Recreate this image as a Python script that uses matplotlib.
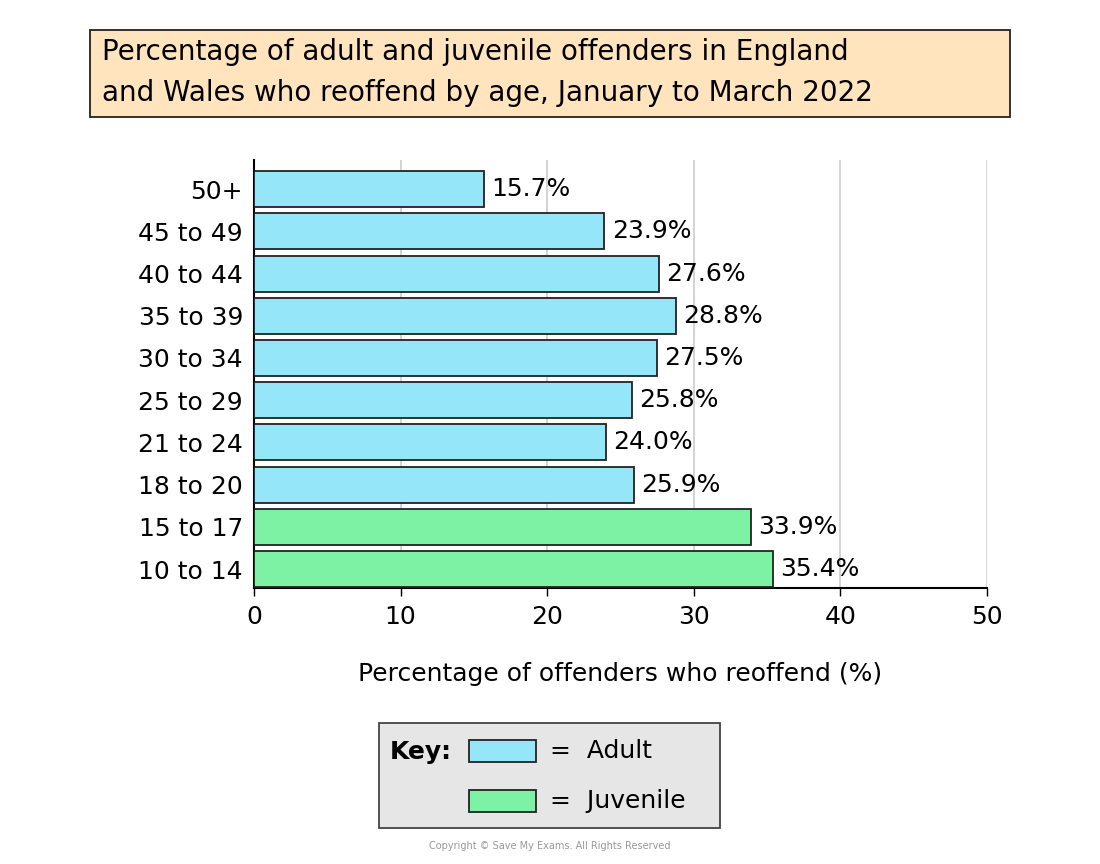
import matplotlib.pyplot as plt
from matplotlib.patches import Rectangle

# Data
ages = ['10 to 14', '15 to 17', '18 to 20', '21 to 24', '25 to 29',
        '30 to 34', '35 to 39', '40 to 44', '45 to 49', '50+']
reoffend = [35.4, 33.9, 25.9, 24.0, 25.8, 27.5, 28.8, 27.6, 23.9, 15.7]
groups = ['Juvenile', 'Juvenile', 'Adult', 'Adult', 'Adult',
          'Adult', 'Adult', 'Adult', 'Adult', 'Adult']
x_ticks = [0, 10, 20, 30, 40, 50]

colours = {'Adult': '#96E6FA', 'Juvenile': '#7DF2A5'}

plt.rcParams['font.family'] = ['DejaVu Sans']

fig = plt.figure(figsize=(11, 8.64), dpi=100)
ax = fig.add_axes([0.2309, 0.3194, 0.6664, 0.4954])

ypos = list(range(len(ages)))
ax.barh(ypos, reoffend, height=0.85,
        color=[colours[g] for g in groups],
        edgecolor='#222222', linewidth=1.3, zorder=3)

for y, v in zip(ypos, reoffend):
    ax.text(v + 0.5, y, f'{v:.1f}%', va='center', ha='left', fontsize=18)

ax.set_xlim(0, 50)
ax.set_ylim(-0.45, 9.69)
ax.set_yticks(ypos)
ax.set_yticklabels(ages, fontsize=18)
ax.set_xticks(x_ticks)
ax.set_xticklabels([str(t) for t in x_ticks], fontsize=18)
ax.tick_params(axis='y', length=0, pad=8)
ax.tick_params(axis='x', length=6, width=1, pad=6)
ax.grid(axis='x', color='#cccccc', linewidth=1.2, zorder=0)
for s in ['top', 'right']:
    ax.spines[s].set_visible(False)
ax.spines['left'].set_linewidth(1.5)
ax.spines['bottom'].set_linewidth(1.5)
ax.set_xlabel('Percentage of offenders who reoffend (%)', fontsize=18, labelpad=24)

# Title box
fig.patches.append(Rectangle((90 / 1100, 1 - 117 / 864), 920 / 1100, 87 / 864,
                             transform=fig.transFigure, facecolor='#FFE4BE',
                             edgecolor='#222222', linewidth=1.3))
fig.text(102 / 1100, 1 - 52 / 864, 'Percentage of adult and juvenile offenders in England',
         fontsize=20, va='center', ha='left')
fig.text(102 / 1100, 1 - 93 / 864, 'and Wales who reoffend by age, January to March 2022',
         fontsize=20, va='center', ha='left')

# Key box
fig.patches.append(Rectangle((379 / 1100, 1 - 828 / 864), 341 / 1100, 105 / 864,
                             transform=fig.transFigure, facecolor='#E6E6E6',
                             edgecolor='#444444', linewidth=1.3))
fig.text(390 / 1100, 1 - 752 / 864, 'Key:', fontsize=18, fontweight='bold', va='center')
for i, g in enumerate(['Adult', 'Juvenile']):
    yc = 751 + i * 50
    fig.patches.append(Rectangle((469 / 1100, 1 - (yc + 11) / 864), 67 / 1100, 22 / 864,
                                 transform=fig.transFigure, facecolor=colours[g],
                                 edgecolor='#222222', linewidth=1.3))
    fig.text(550 / 1100, 1 - yc / 864, f'=  {g}', fontsize=18, va='center')

fig.text(0.5, 1 - 846 / 864, 'Copyright © Save My Exams. All Rights Reserved',
         fontsize=7, color='#999999', ha='center', va='center')

fig.savefig('out.png', dpi=100)
